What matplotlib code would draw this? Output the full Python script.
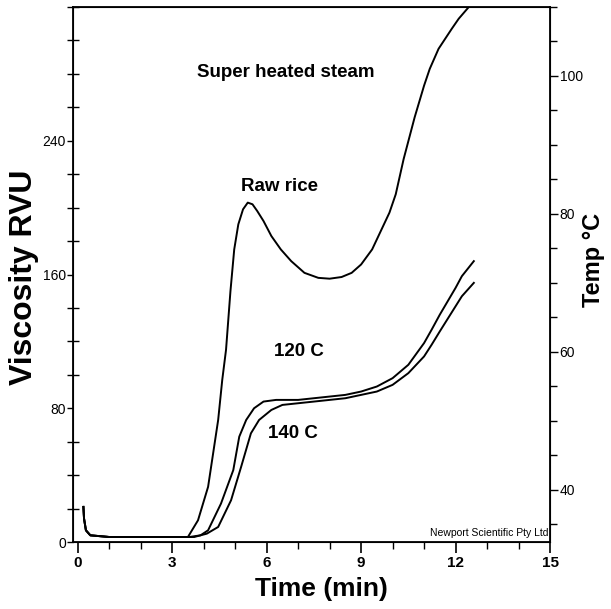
import numpy as np
import matplotlib
matplotlib.use('Agg')
from matplotlib import pyplot as plt
from matplotlib.ticker import MultipleLocator

plt.rcParams['font.family'] = ['Liberation Sans', 'DejaVu Sans']

# viscosity (RVU)
t_raw = [0.18, 0.2, 0.26, 0.4, 1.0, 2.0, 3.0, 3.5, 3.82, 4.14, 4.3, 4.46, 4.59, 4.71,
         4.85, 4.97, 5.1, 5.25, 5.4, 5.55, 5.7, 5.9, 6.15, 6.45, 6.78, 7.2, 7.64, 8.0,
         8.38, 8.7, 9.0, 9.35, 9.65, 9.9, 10.1, 10.35, 10.7, 11.0, 11.18, 11.46, 11.88,
         12.1, 12.42, 12.6]
v_raw = [21, 14, 7, 4, 3, 3, 3, 3, 13, 33, 53, 73, 97, 115,
         150, 175, 190, 199, 203, 202, 198, 192, 183, 175, 168, 161, 158, 157.5,
         158.5, 161, 166, 175, 187, 197, 208, 229, 254, 273, 283, 295, 307,
         313, 320, 325]

t_120 = [0.18, 0.2, 0.26, 0.4, 1.0, 2.0, 3.0, 3.55, 3.9, 4.14, 4.55, 4.94, 5.13, 5.35,
         5.6, 5.9, 6.3, 7.0, 7.5, 8.0, 8.5, 9.0, 9.5, 10.0, 10.5, 11.0, 11.24, 11.5,
         12.0, 12.2, 12.58]
v_120 = [21, 14, 7, 4, 3, 3, 3, 3, 4, 7, 23, 43, 63, 73,
         80, 84, 85, 85, 86, 87, 88, 90, 93, 98, 106, 119, 127, 136,
         152, 159, 168]

t_140 = [0.18, 0.2, 0.26, 0.4, 1.0, 2.0, 3.0, 3.7, 4.1, 4.46, 4.87, 5.19, 5.5, 5.76,
         6.15, 6.5, 7.0, 7.5, 8.0, 8.5, 9.0, 9.5, 10.0, 10.5, 11.0, 11.24, 11.5,
         12.0, 12.2, 12.58]
v_140 = [21, 14, 7, 4, 3, 3, 3, 3, 5, 9, 25, 45, 65, 73,
         79, 82, 83, 84, 85, 86, 88, 90, 94, 101, 111, 118, 126,
         141, 147, 155]

fig = plt.figure(figsize=(6.11, 6.09), dpi=100)
ax = fig.add_axes([0.1195, 0.110, 0.7807, 0.8785])

for t, v in [(t_raw, v_raw), (t_120, v_120), (t_140, v_140)]:
    ax.plot(t, v, color='black', lw=1.4)

ax.set_xlim(-0.15, 15)
ax.set_ylim(0, 320)
ax.set_xticks([0, 3, 6, 9, 12, 15])
ax.xaxis.set_minor_locator(MultipleLocator(1))
ax.set_yticks([0, 80, 160, 240])
ax.yaxis.set_minor_locator(MultipleLocator(20))
ax.tick_params(axis='x', which='major', direction='out', length=8, width=1.2, pad=2, labelsize=11)
ax.tick_params(axis='x', which='minor', direction='out', length=5, width=1)
ax.tick_params(axis='y', which='major', direction='out', length=4, width=1, pad=1, labelsize=10)
ax.tick_params(axis='y', which='minor', direction='inout', length=8, width=1)
for lab in ax.get_xticklabels():
    lab.set_fontweight('bold')
for s in ax.spines.values():
    s.set_linewidth(1.3)

ax.set_xlabel('Time (min)', fontsize=19, fontweight='bold')
ax.xaxis.set_label_coords(0.52, -0.065)
ax.set_ylabel('Viscosity RVU', fontsize=23, fontweight='bold')
ax.yaxis.set_label_coords(-0.071, 0.495)

# temperature axis on the right
ax2 = ax.twinx()
ax2.set_ylim(32.4, 110)
ax2.set_yticks([40, 60, 80, 100])
ax2.yaxis.set_minor_locator(MultipleLocator(5))
ax2.tick_params(axis='y', which='major', direction='out', length=6, width=1, pad=1, labelsize=10)
ax2.tick_params(axis='y', which='minor', direction='out', length=5, width=1)
ax2.set_ylabel('Temp °C', fontsize=17, fontweight='bold', rotation=90)
ax2.yaxis.set_label_coords(1.066, 0.527)

ax.text(6.62, 281, 'Super heated steam', fontsize=13.5, fontweight='bold', ha='center', va='center')
ax.text(6.4, 212.6, 'Raw rice', fontsize=13.5, fontweight='bold', ha='center', va='center')
ax.text(7.04, 114, '120 C', fontsize=13.5, fontweight='bold', ha='center', va='center')
ax.text(6.82, 65, '140 C', fontsize=13.5, fontweight='bold', ha='center', va='center')
ax.text(14.95, 2.5, 'Newport Scientific Pty Ltd', fontsize=7.5, ha='right', va='bottom')

fig.savefig('out.png', dpi=100)
